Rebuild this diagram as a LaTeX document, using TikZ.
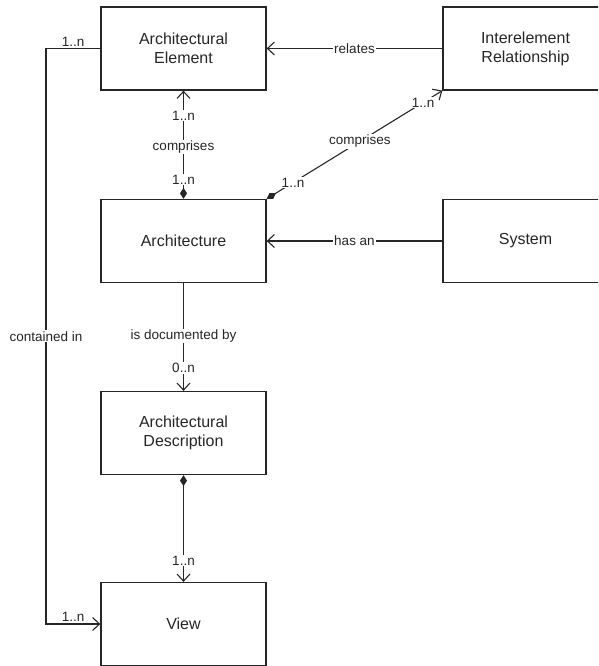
\documentclass[tikz,border=0pt]{standalone}
\usepackage{fontspec}
\setmainfont{Liberation Sans}
\usetikzlibrary{arrows.meta}
\definecolor{ink}{RGB}{38,38,38}
\begin{document}
\begin{tikzpicture}[x=1pt,y=-1pt,
  box/.style={draw=ink, line width=1.3pt, minimum width=165pt, minimum height=83pt,
    align=center, font=\fontsize{16}{19}\selectfont, text=ink, inner sep=0pt},
  link/.style={draw=ink, line width=1.1pt},
  lbl/.style={fill=white, font=\fontsize{13.5}{16}\selectfont, text=ink, inner sep=1pt},
  mult/.style={font=\fontsize{13.5}{16}\selectfont, text=ink, inner sep=1.5pt},
  barb/.tip={Straight Barb[length=7pt,width=13pt,line width=1.1pt]},
  dia/.tip={Diamond[length=11pt,width=7pt]}
]
\useasboundingbox (0,0) rectangle (598,666);
\clip (0,0) rectangle (598,666);

% classes
\node[box] (AE) at (183.5,48.5) {Architectural\\Element};
\node[box] (IR) at (525.5,48.5) {Interelement\\Relationship};
\node[box] (A)  at (183.5,241) {Architecture};
\node[box] (S)  at (525.5,241) {System};
\node[box] (AD) at (183.5,433) {Architectural\\Description};
\node[box] (V)  at (183.5,624) {View};

% bend points of the containment line
\coordinate (c1) at (46,48.5);
\coordinate (c2) at (46,624);

% associations
\draw[link, -barb] (IR.west) -- node[lbl]{relates} (AE.east);
\draw[link, dia-barb] (A.north) --
  node[lbl, pos=0.18]{1..n}
  node[lbl, pos=0.48]{comprises}
  node[lbl, pos=0.77]{1..n} (AE.south);
\draw[link, dia-barb] (A.north east) --
  node[lbl, pos=0.15]{1..n}
  node[lbl, pos=0.53]{comprises}
  node[lbl, pos=0.89]{1..n} (IR.south west);
\draw[link, -barb] (S.west) -- node[lbl]{has an} (A.east);
\draw[link, -barb] (A.south) --
  node[lbl, pos=0.49]{is documented by}
  node[lbl, pos=0.79]{0..n} (AD.north);
\draw[link, dia-barb] (AD.south) --
  node[lbl, pos=0.8]{1..n} (V.north);
\draw[link, -barb] (AE.west) -- node[mult, above]{1..n} (c1)
  -- node[lbl]{contained in} (c2)
  -- node[mult, above]{1..n} (V.west);
\end{tikzpicture}
\end{document}
